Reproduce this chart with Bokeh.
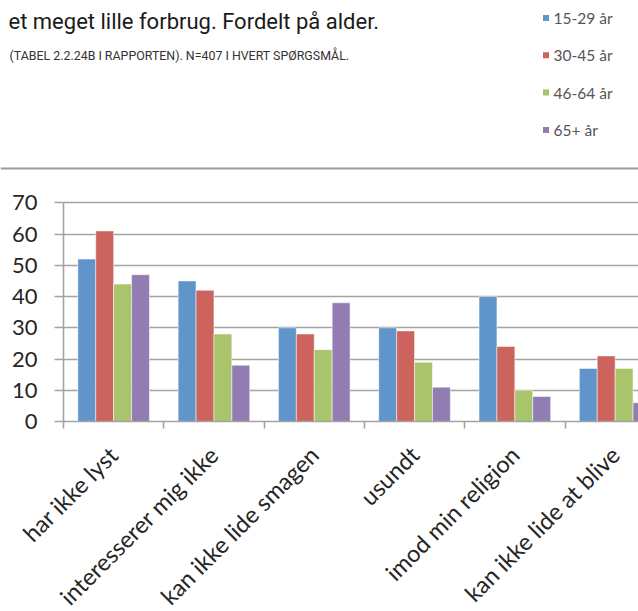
import math
import numpy as np
from bokeh.plotting import figure
from bokeh.layouts import column
from bokeh.models import Range1d, FixedTicker, Span
from bokeh.core.properties import value
from bokeh.embed import file_html
from bokeh.resources import INLINE

# ---------------- data ----------------
title_text = "et meget lille forbrug. Fordelt på alder."
subtitle_text = "(TABEL 2.2.24B I RAPPORTEN). N=407 I HVERT SPØRGSMÅL."
categories = ["har ikke lyst", "interesserer mig ikke", "kan ikke lide smagen",
              "usundt", "imod min religion", "kan ikke lide at blive"]
series_names = ["15-29 år", "30-45 år", "46-64 år", "65+ år"]
v_15_29 = [52, 45, 30, 30, 40, 17]
v_30_45 = [61, 42, 28, 29, 24, 21]
v_46_64 = [44, 28, 23, 19, 10, 17]
v_65plus = [47, 18, 38, 11, 8, 6]
y_ticks = [0, 10, 20, 30, 40, 50, 60, 70]

series_values = [v_15_29, v_30_45, v_46_64, v_65plus]
colors = ["#5F95CB", "#CC635C", "#A9C46B", "#927DB2"]
grey = "#a3a3a3"

W = 638
TOP_H = 178

# ---------------- header (title, subtitle, legend) ----------------
top = figure(width=W, height=TOP_H, x_range=Range1d(0, W), y_range=Range1d(TOP_H, 0),
             output_backend="svg", toolbar_location=None, min_border=0,
             x_axis_location=None, y_axis_location=None)
top.frame_align = False
top.grid.visible = False
top.outline_line_color = None

top.text(x=[8], y=[21], text=[title_text], text_font=value("Roboto"),
         text_font_size="22px", text_baseline="alphabetic", text_color="#1a1a1a")
top.text(x=[9], y=[55], text=[subtitle_text], text_font=value("Roboto"),
         text_font_size="12.4px", text_baseline="alphabetic", text_color="#333333")

leg_y = [17.5 + 37.3 * i for i in range(len(series_names))]
top.rect(x=[545.5] * len(series_names), y=leg_y, width=6, height=6,
         fill_color=colors, line_color=None)
top.text(x=[553] * len(series_names), y=leg_y, text=series_names,
         text_font=value("Lato"), text_font_size="15.5px", text_baseline="middle",
         text_color="#555555")
top.add_layout(Span(location=168, dimension="width", line_color="#9b9b9b", line_width=2))

# ---------------- chart ----------------
cat_px = 100.3
left_border = 63
frame_w = W - left_border
p = figure(frame_width=frame_w, frame_height=243,
           x_range=Range1d(-0.5, -0.5 + frame_w / cat_px),
           y_range=Range1d(0, 77.8),
           output_backend="svg", toolbar_location=None,
           min_border_left=left_border, min_border_right=0, min_border_top=0,
           min_border_bottom=170)
p.frame_align = False
p.outline_line_color = None

bw = 0.1785
idx = np.arange(len(categories))
for k, (vals, col) in enumerate(zip(series_values, colors)):
    p.vbar(x=idx + (k - 1.5) * bw, top=vals, bottom=0, width=bw,
           fill_color=col, line_color="white", line_alpha=0.5, line_width=1)

p.xgrid.visible = False
p.ygrid.ticker = FixedTicker(ticks=y_ticks)
p.ygrid.grid_line_color = grey
p.ygrid.grid_line_width = 1.6

p.yaxis.ticker = FixedTicker(ticks=y_ticks)
p.yaxis.bounds = (0, 70)
p.yaxis.axis_line_color = grey
p.yaxis.axis_line_width = 1.6
p.yaxis.major_tick_line_color = grey
p.yaxis.major_tick_line_width = 1.6
p.yaxis.major_tick_out = 9
p.yaxis.major_tick_in = 0
p.yaxis.minor_tick_line_color = None
p.yaxis.major_label_text_font = "Lato"
p.yaxis.major_label_text_font_size = "22px"
p.yaxis.major_label_text_color = "#262626"
p.yaxis.major_label_standoff = 17

p.xaxis.ticker = FixedTicker(ticks=list(idx), minor_ticks=[i - 0.5 for i in range(len(categories) + 1)])
p.xaxis.major_label_overrides = {int(i): c for i, c in enumerate(categories)}
p.xaxis.axis_line_color = grey
p.xaxis.axis_line_width = 1.6
p.xaxis.major_tick_line_color = None
p.xaxis.major_tick_out = 7
p.xaxis.minor_tick_line_color = grey
p.xaxis.minor_tick_line_width = 1.6
p.xaxis.minor_tick_out = 7
p.xaxis.minor_tick_in = 0
p.xaxis.major_label_orientation = math.pi / 4
p.xaxis.major_label_text_font = "Lato"
p.xaxis.major_label_text_font_size = "23.5px"
p.xaxis.major_label_text_color = "#262626"
p.xaxis.major_label_standoff = 22

layout = column(top, p, spacing=0)
open("out.html", "w").write(file_html(layout, INLINE))
